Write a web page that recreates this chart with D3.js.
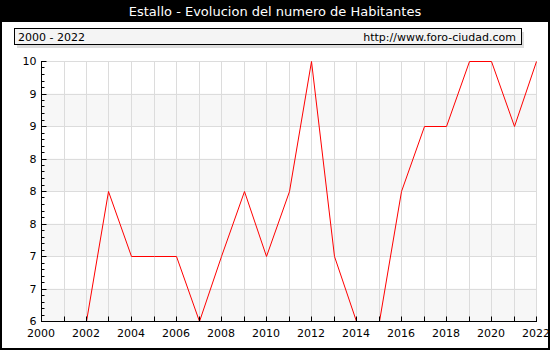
<!DOCTYPE html>
<html>
<head>
<meta charset="utf-8">
<script src="https://cdn.jsdelivr.net/npm/d3@7/dist/d3.min.js"></script>
<style>
  html, body { margin: 0; padding: 0; background: #fff; }
  svg { display: block; }
  text { font-family: "DejaVu Sans", Verdana, sans-serif; }
</style>
</head>
<body>
<svg id="chart" width="550" height="350"></svg>
<script>
// Population of Estallo per year
const years = [2000, 2001, 2002, 2003, 2004, 2005, 2006, 2007, 2008, 2009, 2010, 2011,
               2012, 2013, 2014, 2015, 2016, 2017, 2018, 2019, 2020, 2021, 2022];
const habitantes = [6, 6, 6, 8, 7, 7, 7, 6, 7, 8, 7, 8,
                    10, 7, 6, 6, 8, 9, 9, 10, 10, 9, 10];
const yTickValues = [6, 6.5, 7, 7.5, 8, 8.5, 9, 9.5, 10];
const yTickLabels = ["6", "7", "7", "8", "8", "8", "9", "9", "10"];
const xTickLabels = [2000, 2002, 2004, 2006, 2008, 2010, 2012, 2014, 2016, 2018, 2020, 2022];

const title = "Estallo - Evolucion del numero de Habitantes";
const rangeLabel = "2000 - 2022";
const siteLabel = "http://www.foro-ciudad.com";

const W = 550, H = 350;
const m = { left: 41, right: 14, top: 61, bottom: 29 };
const svg = d3.select("#chart");
const px = v => Math.round(v) + 0.5;

// Outer frame and title bar
svg.append("rect").attr("x", 1).attr("y", 1).attr("width", W - 2).attr("height", H - 2)
  .attr("fill", "#fff").attr("stroke", "#000").attr("stroke-width", 2);
svg.append("rect").attr("x", 0).attr("y", 0).attr("width", W).attr("height", 22).attr("fill", "#000");
svg.append("text").attr("x", W / 2).attr("y", 16).attr("text-anchor", "middle")
  .attr("fill", "#fff").style("font-size", "13px").text(title);

// Header box with shadow
svg.append("rect").attr("x", 17).attr("y", 32).attr("width", 507).attr("height", 16).attr("fill", "#ddd");
svg.append("rect").attr("x", 14.5).attr("y", 28.5).attr("width", 507).attr("height", 16)
  .attr("fill", "#f4f4f4").attr("stroke", "#000").attr("stroke-width", 1);
svg.append("text").attr("x", 18).attr("y", 40.5).style("font-size", "11px").attr("fill", "#000").text(rangeLabel);
svg.append("text").attr("x", 516).attr("y", 40.5).attr("text-anchor", "end")
  .style("font-size", "11px").attr("fill", "#000").text(siteLabel);

const x = d3.scaleLinear().domain([years[0], years[years.length - 1]]).range([m.left, W - m.right]);
const y = d3.scaleLinear().domain([6, 10]).range([H - m.bottom, m.top]);

// Alternating bands
const bands = [6, 7, 8, 9];
svg.append("g").selectAll("rect").data(bands).join("rect")
  .attr("x", x(years[0])).attr("width", x(years[years.length - 1]) - x(years[0]))
  .attr("y", d => y(d + 0.5)).attr("height", d => y(d) - y(d + 0.5))
  .attr("fill", "#f7f7f7");

// Grid lines
const grid = svg.append("g").attr("stroke", "#dcdcdc").attr("stroke-width", 1);
grid.selectAll("line.h").data(yTickValues).join("line").attr("class", "h")
  .attr("x1", x(years[0])).attr("x2", x(years[years.length - 1]))
  .attr("y1", d => px(y(d))).attr("y2", d => px(y(d)));
grid.selectAll("line.v").data(years).join("line").attr("class", "v")
  .attr("x1", d => px(x(d))).attr("x2", d => px(x(d)))
  .attr("y1", y(10)).attr("y2", y(6));

// Data line, pixel-aligned so the axis line covers values sitting on the baseline
const line = d3.line().x((d, i) => px(x(years[i]))).y(d => px(y(d)));
svg.append("path").datum(habitantes).attr("d", line)
  .attr("fill", "none").attr("stroke", "#ff0000").attr("stroke-width", 1);

// Y axis with minor ticks
const yAxis = svg.append("g").attr("transform", `translate(${px(x(years[0]))},0)`);
yAxis.call(d3.axisRight(y).tickValues(yTickValues).tickSize(5).tickFormat("")).call(g => g.select(".domain").remove());
yAxis.selectAll(".tick").attr("transform", d => `translate(0,${px(y(d))})`);
yAxis.append("line").attr("y1", y(10)).attr("y2", px(y(6))).attr("stroke", "#000");
const minor = d3.range(60, 101).map(d => d / 10).filter(v => Math.abs(v * 2 - Math.round(v * 2)) > 1e-6);
yAxis.selectAll("line.minor").data(minor).join("line").attr("class", "minor")
  .attr("x1", 0).attr("x2", 3).attr("y1", d => px(y(d))).attr("y2", d => px(y(d)))
  .attr("stroke", "#000");
yAxis.selectAll(".tick line").attr("stroke", "#000");
yAxis.selectAll("text.lbl").data(yTickValues).join("text").attr("class", "lbl")
  .attr("x", -5).attr("y", d => y(d) + 4).attr("text-anchor", "end")
  .style("font-size", "11px").attr("fill", "#000").text((d, i) => yTickLabels[i]);

// X axis
const xAxis = svg.append("g").attr("transform", `translate(0,${px(y(6))})`);
xAxis.append("line").attr("x1", x(years[0])).attr("x2", px(x(years[years.length - 1])) + 0.5).attr("stroke", "#000");
xAxis.selectAll("line.tk").data(years).join("line").attr("class", "tk")
  .attr("x1", d => px(x(d))).attr("x2", d => px(x(d)))
  .attr("y1", 0).attr("y2", -5).attr("stroke", "#000");
xAxis.selectAll("text").data(xTickLabels).join("text")
  .attr("x", d => x(d)).attr("y", 15).attr("text-anchor", "middle")
  .style("font-size", "11px").attr("fill", "#000").text(d => d);
</script>
</body>
</html>
